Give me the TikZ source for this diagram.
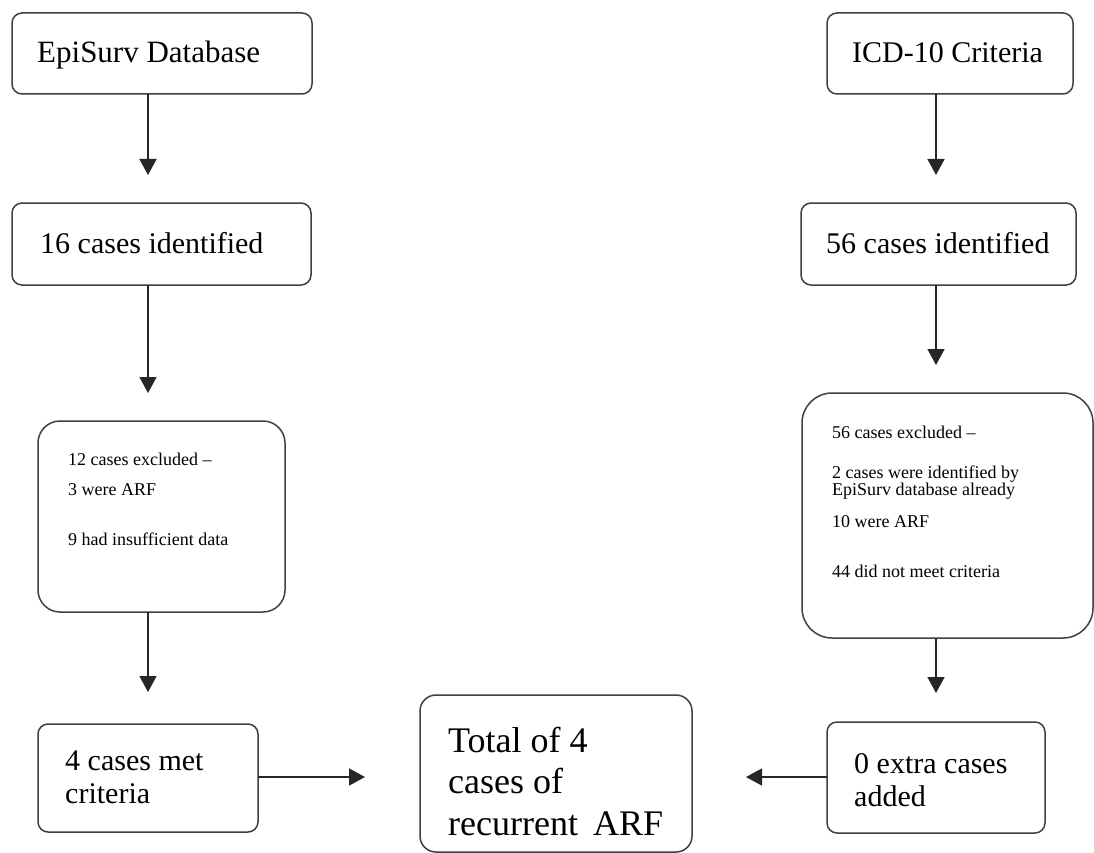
\documentclass[tikz,border=0pt]{standalone}
\usepackage{fontspec}
\setmainfont{Liberation Serif}
\usetikzlibrary{arrows.meta}
\definecolor{edge}{HTML}{404040}
\tikzset{
  box/.style={draw=edge, line width=1.5pt, rounded corners=10pt, inner sep=0pt, outer sep=0pt, fill=white},
  bigbox/.style={box, rounded corners=22pt},
  hugebox/.style={box, rounded corners=30pt},
  arr/.style={draw=black!85, line width=1.5pt, -{Triangle[length=16pt,width=17pt]}},
  big/.style={anchor=base west, inner sep=0pt, font=\fontsize{30}{36}\selectfont},
  total/.style={anchor=base west, inner sep=0pt, font=\fontsize{36}{42}\selectfont},
  small/.style={anchor=base west, inner sep=0pt, font=\fontsize{18}{22}\selectfont},
}
\begin{document}
\begin{tikzpicture}[x=1pt,y=-1pt]
\fill[white] (0,0) rectangle (1094,853);
\useasboundingbox (0,0) rectangle (1094,853);

% left column boxes
\node[box, minimum width=300pt, minimum height=81pt] (b1) at (162,53.5) {};
\node[big, font=\fontsize{31}{36}\selectfont] (t1) at (37,63) {EpiSurv Database};

\node[box, minimum width=299pt, minimum height=82pt] (b2) at (161.5,244) {};
\node[big] (t2) at (40,253) {16 cases identified};

\node[bigbox, minimum width=247pt, minimum height=191pt] (b3) at (161.5,516.5) {};
\node[small] (t3a) at (68,465) {12 cases excluded --};
\node[small] (t3b) at (68,495) {3 were ARF};
\node[small] (t3c) at (68,545) {9 had insufficient data};

\node[box, minimum width=220pt, minimum height=108pt] (b4) at (148,778) {};
\node[big] (t4a) at (65,770) {4 cases met};
\node[big] (t4b) at (65,803) {criteria};

% centre total
\node[box, rounded corners=16pt, minimum width=272pt, minimum height=157pt] (tot) at (556,773.5) {};
\node[total] (tta) at (448,752) {Total of 4};
\node[total] (ttb) at (448,793) {cases of};
\node[total] (ttc) at (448,835) {recurrent\, ARF};

% right column boxes
\node[box, minimum width=246pt, minimum height=81pt] (b5) at (950,53.5) {};
\node[big] (t5) at (852,63) {ICD-10 Criteria};

\node[box, minimum width=275pt, minimum height=82pt] (b6) at (938.5,244) {};
\node[big] (t6) at (826,253) {56 cases identified};

\node[hugebox, minimum width=291pt, minimum height=245pt] (b7) at (947.5,515.5) {};
\node[small] (t7a) at (832,438) {56 cases excluded --};
\node[small] (t7b) at (832,478) {2 cases were identified by};
\node[small] (t7c) at (832,495) {EpiSurv database already};
\node[small] (t7d) at (832,527) {10 were ARF};
\node[small] (t7e) at (832,577) {44 did not meet criteria};

\node[box, minimum width=218pt, minimum height=111pt] (b8) at (936,777.5) {};
\node[big] (t8a) at (854,773) {0 extra cases};
\node[big] (t8b) at (854,806) {added};

% arrow tips
\coordinate (a1) at (148,175);
\coordinate (a2) at (148,393);
\coordinate (a3) at (148,692);
\coordinate (a4) at (365,777);
\coordinate (a5) at (936,175);
\coordinate (a6) at (936,365);
\coordinate (a7) at (936,693);
\coordinate (a8) at (746,777);

\draw[arr] (b1.south -| a1) -- (a1);
\draw[arr] (b2.south -| a2) -- (a2);
\draw[arr] (b3.south -| a3) -- (a3);
\draw[arr] (b4.east |- a4) -- (a4);
\draw[arr] (b5.south -| a5) -- (a5);
\draw[arr] (b6.south -| a6) -- (a6);
\draw[arr] (b7.south -| a7) -- (a7);
\draw[arr] (b8.west |- a8) -- (a8);
\end{tikzpicture}
\end{document}
